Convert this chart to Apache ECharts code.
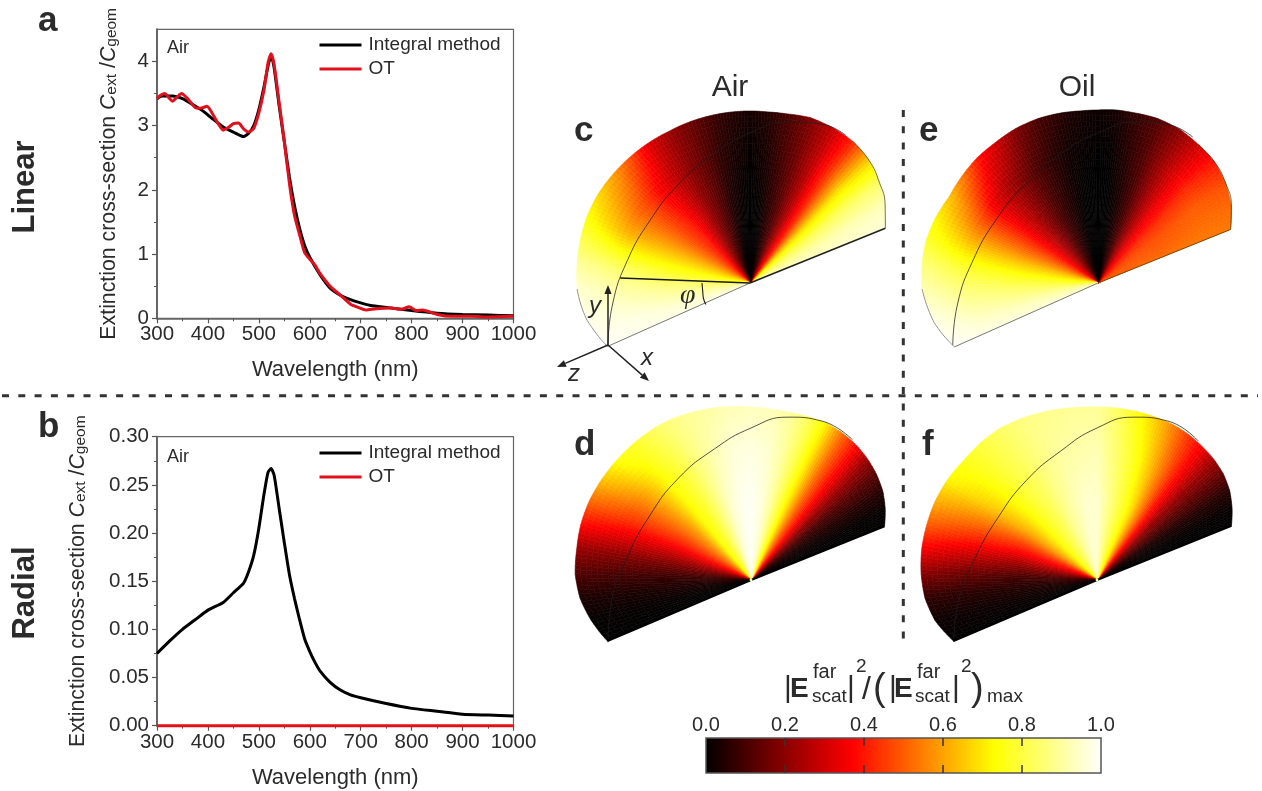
<!DOCTYPE html>
<html><head><meta charset="utf-8">
<style>html,body{margin:0;padding:0;background:#fff}#chart{width:1262px;height:791px}</style>
<script src="https://cdn.jsdelivr.net/npm/echarts@6/dist/echarts.min.js"></script>
</head><body><div id="chart"></div>
<script>
// ---- spectra (panel a) ----
const aIntegral = [[300,3.42],[310,3.46],[330,3.46],[350,3.42],[370,3.33],[390,3.23],[410,3.1],[430,2.98],[450,2.9],[470,2.83],[480,2.88],[490,3.0],[500,3.25],[510,3.6],[520,4.0],[525,4.06],[530,3.9],[540,3.3],[550,2.75],[560,2.2],[570,1.75],[580,1.4],[590,1.13],[600,0.95],[620,0.68],[640,0.47],[660,0.36],[680,0.29],[700,0.24],[720,0.2],[750,0.17],[800,0.12],[850,0.08],[900,0.06],[950,0.05],[1000,0.04]];
const aOT = [[300,3.42],[305,3.46],[315,3.5],[325,3.42],[330,3.38],[340,3.45],[348,3.5],[360,3.42],[375,3.28],[385,3.27],[398,3.3],[410,3.17],[420,3.03],[430,2.93],[440,2.97],[450,3.03],[460,3.04],[470,2.95],[480,2.9],[490,2.96],[500,3.2],[510,3.55],[518,3.98],[524,4.12],[530,3.95],[540,3.35],[550,2.75],[560,2.1],[570,1.6],[580,1.3],[590,1.02],[600,0.92],[610,0.83],[620,0.7],[640,0.5],[660,0.36],[680,0.22],[695,0.17],[710,0.13],[730,0.15],[760,0.16],[780,0.14],[795,0.18],[810,0.12],[822,0.13],[850,0.06],[880,0.03],[920,0.03],[950,0.02],[1000,0.03]];
// ---- spectra (panel b) ----
const bIntegral = [[300,.075],[325,.088],[350,.1],[375,.11],[400,.12],[430,.128],[450,.138],[470,.148],[480,.16],[490,.177],[500,.205],[510,.24],[518,.263],[524,.267],[530,.26],[540,.225],[550,.19],[560,.157],[570,.132],[580,.11],[590,.09],[600,.077],[610,.066],[620,.057],[640,.045],[660,.037],[680,.032],[700,.029],[750,.023],[800,.018],[850,.015],[900,.012],[950,.011],[1000,.010]];
const bOT = [[300,0],[400,0],[500,0],[600,0],[700,0],[800,0],[900,0],[1000,0]];

// ---- far-field maps: fan columns (deg), rim radius, value rows by radial fraction ----
const rowFractions = [0.12,0.45,0.75,1];
const linearAngles = [22,30,38,46,54,62,70,78,84,90,96,102,110,118,126,134,142,150,158,166,174,182,190,197,204];
const radialAngles = [22,28,34,40,46,52,58,64,70,76,82,90,98,106,114,122,130,138,146,154,162,170,178,186,194,203];
const rimC = [146,156,164,171,175,176,176,173,172,172,172,172,172,172,173,174,175,176,176,175,174,173,169,163,156];
const rimE = [143,154,162,168,171,174,175,174,174,173,173,174,175,175,174,174,173,172,175,177,177,176,171,165,157];
const rimD = [144,152,159,164,168,171,173,174,173,172,172,173,175,177,179,180,180,180,180,180,179,177,176,172,165,156];
const rimF = [145,153,160,165,168,170,172,173,173,173,173,173,174,176,178,180,180,179,180,180,179,178,176,173,167,156];
const fieldC = [
 [.93,.88,.80,.66,.42,.25,.11,.03,0,0,0,.02,.08,.16,.26,.38,.46,.54,.62,.69,.76,.84,.90,.94,.97],
 [.94,.90,.82,.68,.44,.26,.13,.05,.01,0,.01,.04,.12,.20,.30,.40,.46,.54,.63,.71,.78,.86,.91,.95,.97],
 [.95,.92,.84,.70,.46,.28,.16,.08,.03,.01,.03,.06,.13,.20,.28,.36,.46,.54,.62,.73,.84,.90,.94,.97,.98],
 [.96,.93,.84,.66,.42,.28,.18,.10,.05,.03,.05,.08,.15,.22,.32,.48,.60,.68,.74,.82,.90,.95,.97,.98,.99]];
const fieldE = [
 [.50,.50,.47,.42,.33,.22,.10,.03,0,0,0,.01,.05,.10,.18,.26,.34,.44,.54,.64,.72,.80,.88,.92,.95],
 [.52,.50,.48,.43,.34,.22,.10,.03,0,0,0,.01,.05,.10,.17,.25,.34,.44,.54,.65,.74,.82,.88,.93,.96],
 [.54,.52,.50,.44,.34,.23,.12,.05,.01,0,.01,.02,.06,.11,.18,.25,.33,.45,.57,.68,.78,.85,.90,.94,.97],
 [.54,.52,.48,.40,.30,.20,.12,.07,.03,.02,.03,.05,.10,.18,.30,.40,.55,.65,.72,.78,.86,.92,.96,.98,.99]];
const fieldD = [
 [0,.01,.04,.10,.22,.38,.52,.68,.80,.90,.96,.99,.98,.94,.86,.78,.72,.60,.50,.40,.28,.17,.08,.04,.01,0],
 [0,.01,.04,.10,.22,.38,.52,.68,.80,.90,.96,.99,.98,.94,.86,.78,.72,.60,.50,.40,.28,.17,.08,.04,.01,0],
 [0,.01,.05,.12,.23,.38,.52,.69,.81,.90,.95,.97,.96,.92,.87,.80,.74,.64,.54,.44,.32,.19,.10,.04,.01,0],
 [0,.01,.05,.12,.22,.38,.52,.70,.82,.89,.92,.93,.92,.90,.88,.84,.78,.75,.65,.52,.38,.22,.12,.04,.01,0]];
const fieldF = [
 [0,.01,.04,.12,.22,.38,.54,.68,.76,.82,.88,.95,.95,.92,.88,.82,.77,.70,.60,.46,.34,.21,.10,.05,.02,0],
 [0,.01,.04,.12,.22,.38,.54,.68,.76,.82,.88,.95,.95,.92,.88,.82,.77,.70,.60,.46,.34,.21,.10,.05,.02,0],
 [0,.01,.05,.13,.23,.37,.50,.62,.72,.79,.85,.92,.91,.90,.87,.83,.79,.73,.66,.54,.42,.28,.15,.06,.02,0],
 [0,.01,.05,.14,.24,.36,.45,.56,.66,.74,.82,.89,.89,.88,.87,.84,.80,.76,.72,.62,.50,.36,.20,.07,.02,0]];
// great-circle arcs drawn on each map: [radius, angle]
const arcC = [[155,203.6],[139,188.7],[125,170.2],[118,148.2],[122,125.6],[134,105.9],[150,90],[165,77.1],[174,66],[176,57]];
const arcE = [[158,203.2],[142,188.5],[127.4,170.4],[120,148.7],[122.7,126.2],[134.4,106.2],[150,90],[165.3,76.9],[173,66.5],[174,57]];
const arcD = [[156,203.5],[141,188.6],[126,169.9],[120,147.8],[125,125.5],[136,105.7],[152,90],[167,77.2],[174,66],[173,54]];
const arcF = [[156,203.3],[140,188.6],[124,170],[117,147.8],[122,125.5],[134,105.7],[152,90],[167,77.2],[174,66],[172,54]];
// ---- colour scale ----
const hotStops = [[0,[0,0,0]],[0.37,[255,0,0]],[0.73,[255,255,0]],[1,[255,255,255]]];
const colorbarTicks = [0,0.2,0.4,0.6,0.8,1];

const FONT = '"Liberation Sans", Arial, sans-serif';
const INK = '#2b2b2b';
function hot(v){
  for(let k=1;k<hotStops.length;k++){
    if(v<=hotStops[k][0]){
      const a=hotStops[k-1],b=hotStops[k],t=(v-a[0])/(b[0]-a[0]);
      return 'rgb('+a[1].map((c,m)=>Math.round(c+(b[1][m]-c)*t)).join(',')+')';
    }
  }
  return 'rgb(255,255,255)';
}
const panels = [
 {center:[750,283],angles:linearAngles,rim:rimC,field:fieldC,arc:arcC},
 {center:[1098,283],angles:linearAngles,rim:rimE,field:fieldE,arc:arcE},
 {center:[751,580],angles:radialAngles,rim:rimD,field:fieldD,arc:arcD},
 {center:[1097,580],angles:radialAngles,rim:rimF,field:fieldF,arc:arcF}
];
function mapSeries(p,k){
  const rows=[0].concat(rowFractions);
  const at=(j,i)=>p.field[Math.max(j-1,0)][i];
  const data=[];
  for(let i=0;i<p.angles.length-1;i++)for(let j=0;j<rows.length-1;j++)data.push([i,j]);
  return {type:'custom',coordinateSystem:'polar',polarIndex:k,silent:true,z:2,animation:false,data,
    renderItem(params,api){
      const i=api.value(0),j=api.value(1),children=[],NA=6,NR=8;
      const node=(u,w)=>{
        const ang=p.angles[i]+(p.angles[i+1]-p.angles[i])*u;
        const rim=p.rim[i]+(p.rim[i+1]-p.rim[i])*u;
        const fr=rows[j]+(rows[j+1]-rows[j])*w;
        return api.coord([rim*fr,ang]);
      };
      const val=(u,w)=>{
        const a=at(j,i)*(1-u)+at(j,i+1)*u, b=at(j+1,i)*(1-u)+at(j+1,i+1)*u;
        return a*(1-w)+b*w;
      };
      for(let a=0;a<NA;a++)for(let b=0;b<NR;b++){
        const u0=a/NA,u1=(a+1)/NA,w0=b/NR,w1=(b+1)/NR,c=hot(val((u0+u1)/2,(w0+w1)/2));
        children.push({type:'polygon',shape:{points:[node(u0,w0),node(u1,w0),node(u1,w1),node(u0,w1)]},
          style:{fill:c,stroke:c,lineWidth:0.6}});
      }
      return {type:'group',children};
    }};
}
function polarLine(k,data,color,width,smooth){
  return {type:'line',coordinateSystem:'polar',polarIndex:k,data,showSymbol:false,symbol:'none',silent:true,animation:false,z:4,smooth:!!smooth,
    lineStyle:{color,width}};
}
function rimPart(p,a,b){const out=[];p.angles.forEach((t,i)=>{if(t>=a&&t<=b)out.push([p.rim[i],t]);});return out;}

const series=[];
panels.forEach((p,k)=>{
  series.push(mapSeries(p,k));
  const last=p.angles.length-1;
  const toR=[[0,p.angles[0]],[p.rim[0],p.angles[0]]], toL=[[0,p.angles[last]],[p.rim[last],p.angles[last]]];
  series.push(polarLine(k,p.arc,'rgba(30,30,30,0.75)',1,true));
  if(k<2){
    series.push(polarLine(k,toR,k===0?'#222':'#7a4a00',k===0?1.6:1));
    series.push(polarLine(k,toL,'#777',1));
    series.push(polarLine(k,rimPart(p,22,55),'rgba(60,60,20,0.8)',0.9,true));
    series.push(polarLine(k,rimPart(p,182,p.angles[last]),'#888',0.9,true));
  }else{
    series.push(polarLine(k,toR,'#000',2.4));
    series.push(polarLine(k,toL,'#000',2.4));
  }
});
// angle phi marker on panel c
series.push(polarLine(0,[[0,177.8],[130,177.8]],'#1a1a1a',1.6));
series.push(polarLine(0,[[48,180],[48,190],[49,198],[49,206]],'#1a1a1a',1.1,true));

function spectrum(name,data,color,gi,width){
  return {type:'line',name,data,xAxisIndex:gi,yAxisIndex:gi,showSymbol:false,symbol:'none',smooth:0.2,animation:false,
    clip:false,z:name==='OT'?6:5,lineStyle:{color,width},itemStyle:{color}};
}
series.push(spectrum('Integral method',aIntegral,'#000',0,3));
series.push(spectrum('OT',aOT,'#e2101c',0,3));
series.push(spectrum('Integral method',bIntegral,'#000',1,3));
series.push(spectrum('OT',bOT,'#e2101c',1,3));
// colour bar
series.push({type:'custom',xAxisIndex:2,yAxisIndex:2,silent:true,animation:false,z:2,data:[[0,0,1,1]],
  renderItem(params,api){
    const a=api.coord([api.value(0),api.value(1)]),b=api.coord([api.value(2),api.value(3)]);
    const children=[{type:'rect',shape:{x:a[0],y:b[1],width:b[0]-a[0],height:a[1]-b[1]},
      style:{stroke:'#555',lineWidth:1.5,fill:new echarts.graphic.LinearGradient(0,0,1,0,
        hotStops.map(s=>({offset:s[0],color:'rgb('+s[1].join(',')+')'})))}}];
    colorbarTicks.slice(1,5).forEach(t=>{
      const x=api.coord([t,0])[0];
      children.push({type:'line',shape:{x1:x,y1:b[1],x2:x,y2:b[1]+8},style:{stroke:'#333',lineWidth:1.5}});
      children.push({type:'line',shape:{x1:x,y1:a[1],x2:x,y2:a[1]-8},style:{stroke:'#333',lineWidth:1.5}});
    });
    return {type:'group',children};
  }});

const nameRich={
  n:{fontFamily:FONT,fontSize:21.3,color:INK},
  i:{fontFamily:FONT,fontSize:21.3,fontStyle:'italic',color:INK},
  s:{fontFamily:FONT,fontSize:15.5,color:INK,verticalAlign:'bottom',padding:[6,0,0,0]}
};
const yName='{n|Extinction cross-section }{i|C}{s|ext}{n| /}{i|C}{s|geom}';
function xA(gi){return {gridIndex:gi,type:'value',min:300,max:1000,interval:100,minorTick:{show:true,splitNumber:2,length:3,lineStyle:{color:'#555',width:1}},
  splitLine:{show:false},minorSplitLine:{show:false},
  axisLine:{show:true,onZero:false,lineStyle:{color:'#666',width:1.5}},axisTick:{show:true,length:5,inside:false,lineStyle:{color:'#555',width:1.2}},
  axisLabel:{fontFamily:FONT,fontSize:20.5,color:INK,margin:6,showMinLabel:true,showMaxLabel:true,hideOverlap:false,formatter:v=>String(v)},
  name:'Wavelength (nm)',nameLocation:'middle',nameGap:41,nameTextStyle:{fontFamily:FONT,fontSize:22,color:INK}};}
function yA(gi,max,interval,gap,values,fmt){return {gridIndex:gi,type:'value',min:0,max,interval,minorTick:{show:true,splitNumber:2,length:3,lineStyle:{color:'#555',width:1}},
  splitLine:{show:false},minorSplitLine:{show:false},
  axisLine:{show:true,onZero:false,lineStyle:{color:'#666',width:2}},axisTick:{show:true,length:5,customValues:values,lineStyle:{color:'#555',width:1.2}},
  axisLabel:{fontFamily:FONT,fontSize:20.5,color:INK,margin:8,customValues:values,formatter:fmt},
  name:yName,nameLocation:'middle',nameGap:gap,nameRotate:90,nameTextStyle:{rich:nameRich}};}

const gfx=[];
function txt(x,base,text,size,opt){
  opt=opt||{};
  gfx.push({type:'text',x,y:base-size*0.34,rotation:opt.rot||0,silent:true,z:20,style:{text,fill:opt.fill||INK,
    font:(opt.italic?'italic ':'')+(opt.bold?'bold ':'')+size+'px '+(opt.family||FONT),
    textAlign:opt.align||'left',textVerticalAlign:'middle'}});
}
function arrow(x0,y0,x1,y1){
  const L=Math.hypot(x1-x0,y1-y0),ux=(x1-x0)/L,uy=(y1-y0)/L,h=9,w=3.6;
  gfx.push({type:'line',silent:true,z:20,shape:{x1:x0,y1:y0,x2:x1-ux*h,y2:y1-uy*h},style:{stroke:'#222',lineWidth:1.5}});
  gfx.push({type:'polygon',silent:true,z:20,shape:{points:[[x1,y1],[x1-ux*h-uy*w,y1-uy*h+ux*w],[x1-ux*h+uy*w,y1-uy*h-ux*w]]},style:{fill:'#222'}});
}
// dividers
gfx.push({type:'line',silent:true,z:1,shape:{x1:2,y1:395.7,x2:1258,y2:395.7},style:{stroke:'#333',lineWidth:3,lineDash:[7,9.3]}});
gfx.push({type:'line',silent:true,z:1,shape:{x1:903.3,y1:110,x2:903.3,y2:644},style:{stroke:'#333',lineWidth:3,lineDash:[7,9.3]}});
// panel letters
[['a',38,33],['b',38,439],['c',574,143],['d',574,457],['e',919,143],['f',922,457]].forEach(l=>txt(l[1],l[2],l[0],35,{bold:true}));
// row and column titles
gfx.push({type:'text',x:25,y:187,rotation:Math.PI/2,silent:true,z:20,style:{text:'Linear',fill:INK,font:'bold 31px '+FONT,textAlign:'center',textVerticalAlign:'middle'}});
gfx.push({type:'text',x:25,y:593,rotation:Math.PI/2,silent:true,z:20,style:{text:'Radial',fill:INK,font:'bold 31px '+FONT,textAlign:'center',textVerticalAlign:'middle'}});
txt(730,98,'Air',30,{align:'center'});
txt(1077,98,'Oil',30,{align:'center'});
txt(167,54,'Air',18);
txt(167,463,'Air',18);
// coordinate triad of panel c
arrow(608,345,608,285);arrow(608,345,557,367);arrow(608,345,649,381);
txt(589,314,'y',24,{italic:true});
txt(641,366,'x',24,{italic:true});
txt(568,382,'z',24,{italic:true});
txt(680,305,'φ',28,{italic:true,family:'"Liberation Serif", serif'});
gfx.push({type:'circle',silent:true,z:20,shape:{cx:751,cy:580,r:1.4},style:{fill:'#ffffb0'}});
gfx.push({type:'circle',silent:true,z:20,shape:{cx:1097,cy:580,r:1.4},style:{fill:'#ffffb0'}});
// colour-bar title
[[784,'|',30],[889,'|',30],[847,'|',30],[952,'|',30]].forEach(t=>txt(t[0],699,t[1],t[2]));
txt(790,699,'E',28,{bold:true});txt(894,699,'E',28,{bold:true});
txt(813,679,'far',20);txt(917,679,'far',20);
txt(812,703,'scat',19);txt(915,703,'scat',19);
txt(856,673,'2',19);txt(961,673,'2',19);
txt(862,701,'/',32);
txt(873,702,'(',38);txt(971,702,')',38);
txt(987,703,'max',19);

const legendBase={left:319.5,padding:0,orient:'vertical',icon:'rect',itemWidth:42,itemHeight:3,itemGap:5,data:['Integral method','OT'],selectedMode:false,
  textStyle:{fontFamily:FONT,fontSize:19,color:INK,padding:[0,0,0,2]}};
const option={
  animation:false,
  grid:[
    {left:157,top:29.3,width:356.5,height:289,show:true,borderColor:'#666',borderWidth:1.2,backgroundColor:'transparent'},
    {left:157,top:436.7,width:356.5,height:289,show:true,borderColor:'#666',borderWidth:1.2,backgroundColor:'transparent'},
    {left:706,top:738,width:395,height:35}
  ],
  xAxis:[xA(0),xA(1),
    {gridIndex:2,type:'value',min:0,max:1,interval:0.2,position:'top',z:6,splitLine:{show:false},axisLine:{show:false},
      axisTick:{show:false},
      axisLabel:{fontFamily:FONT,fontSize:20,color:INK,margin:3,customValues:colorbarTicks,formatter:v=>v.toFixed(1)}}
  ],
  yAxis:[yA(0,4.5,1,37,[0,1,2,3,4],v=>String(v)),yA(1,0.3,0.05,68,[0,.05,.1,.15,.2,.25,.3],v=>v.toFixed(2)),
    {gridIndex:2,type:'value',min:0,max:1,show:false}],
  polar:panels.map(p=>({center:p.center,radius:200})),
  angleAxis:panels.map((p,k)=>({polarIndex:k,type:'value',min:0,max:360,startAngle:0,clockwise:false,show:false})),
  radiusAxis:panels.map((p,k)=>({polarIndex:k,type:'value',min:0,max:200,show:false})),
  legend:[Object.assign({top:35.5},legendBase),Object.assign({top:443.5},legendBase)],
  series,
  graphic:{elements:gfx}
};
const chart=echarts.init(document.getElementById('chart'),null,{renderer:'canvas'});
chart.setOption(option);
</script></body></html>
